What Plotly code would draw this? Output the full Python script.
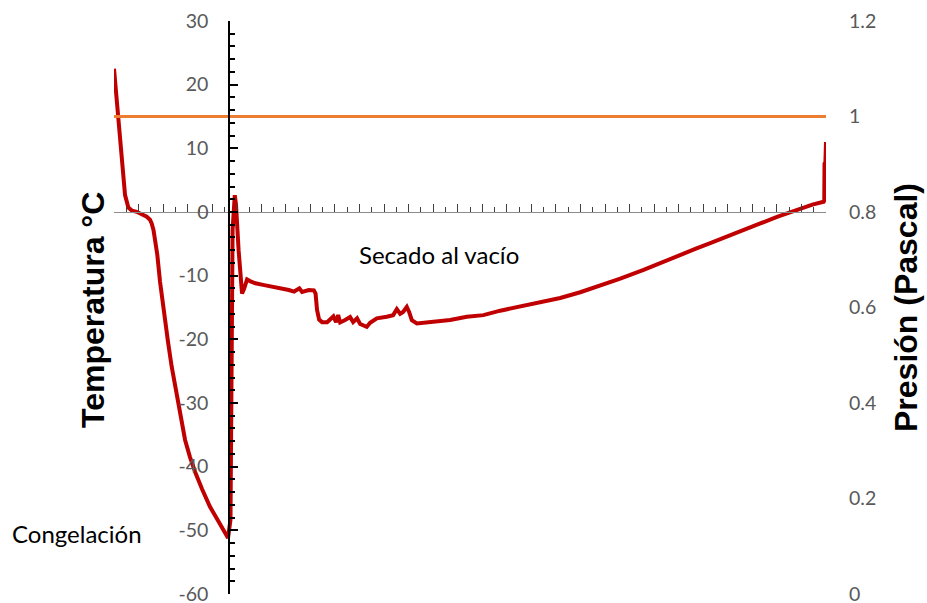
import plotly.graph_objects as go

# --- data ---
tiempo = [0.00, 0.49, 0.90, 1.17, 1.47, 1.85, 2.20, 2.67, 2.93, 3.07, 3.22, 3.34, 3.53, 3.75,
          3.97, 4.10, 4.40, 4.70, 4.97, 5.24, 5.50, 5.79, 6.19, 6.60, 7.17, 7.82, 8.48, 8.96,
          9.29, 9.49, 9.58, 9.66, 9.84, 9.94, 10.15, 10.31, 10.43, 10.59, 10.84, 11.08, 11.52,
          12.14, 12.88, 13.53, 14.24, 14.67, 15.10, 15.32, 15.87, 16.28, 16.42, 16.54, 16.71,
          16.95, 17.36, 17.87, 18.09, 18.26, 18.42, 18.83, 19.23, 19.48, 19.80, 20.05, 20.59,
          20.86, 21.41, 22.22, 22.74, 23.04, 23.31, 23.55, 23.85, 24.04, 24.26, 24.67, 25.35,
          26.02, 27.38, 28.74, 30.10, 31.46, 32.82, 34.72, 36.35, 37.98, 39.61, 41.24, 43.14,
          44.50, 46.13, 47.35, 48.57, 49.80, 51.02, 52.65, 54.01, 55.09, 55.91, 56.89, 57.81,
          57.86, 57.88, 57.95, 58.00]
temperatura = [22.5, 11.75, 2.65, 0.7, 0.2, 0.03, -0.25, -0.75, -1.2, -1.8, -2.85, -4.15, -6.75,
               -10.95, -14.6, -16.2, -20.4, -24.3, -27.2, -30.3, -33.1, -35.8, -38.5, -40.8, -43.5,
               -46.3, -48.5, -50.1, -51.2, -48.3, -13.8, -2.8, 2.65, 1.1, -6.0, -10.7, -12.8,
               -12.1, -10.6, -10.85, -11.2, -11.45, -11.7, -12.0, -12.25, -12.5, -12.0, -12.55,
               -12.25, -12.3, -12.8, -15.4, -16.9, -17.3, -17.3, -16.4, -17.3, -16.2, -17.35,
               -16.95, -16.5, -17.3, -16.7, -17.6, -18.05, -17.4, -16.7, -16.45, -16.2, -15.25,
               -16.0, -15.7, -14.9, -15.7, -17.0, -17.5, -17.35, -17.2, -16.95, -16.45, -16.2,
               -15.5, -14.95, -14.2, -13.5, -12.6, -11.6, -10.45, -9.1, -8.0, -6.75, -5.8, -4.9,
               -4.0, -3.1, -1.8, -0.75, -0.02, 0.55, 1.15, 1.6, 1.8, 7.6, 7.8, 11.0]

presion_tiempo = [0, 58]
presion = [1.0, 1.0]

temp_ticks = [30, 20, 10, 0, -10, -20, -30, -40, -50, -60]
temp_labels = ["30", "20", "10", "0", "-10", "-20", "-30", "-40", "-50", "-60"]
pres_ticks = [1.2, 1.0, 0.8, 0.6, 0.4, 0.2, 0.0]
pres_labels = ["1.2", "1", "0.8", "0.6", "0.4", "0.2", "0"]

TICKFONT = dict(family="Lato, Open Sans, sans-serif", size=19.5, color="#595959")

fig = go.Figure()
fig.add_trace(go.Scatter(x=presion_tiempo, y=presion, mode="lines", yaxis="y2",
                         line=dict(color="#ED7D31", width=3.2), showlegend=False,
                         hoverinfo="skip"))
fig.add_trace(go.Scatter(x=tiempo, y=temperatura, mode="lines", yaxis="y",
                         line=dict(color="#C00000", width=4), showlegend=False))

fig.update_layout(
    width=927, height=603,
    margin=dict(l=114, r=101, t=21, b=9),
    paper_bgcolor="white", plot_bgcolor="white",
    showlegend=False,
    xaxis=dict(range=[0, 58], anchor="free", position=2/3, automargin=False,
               showline=True, linecolor="#8c8c8c", linewidth=1.3,
               showgrid=False, zeroline=False, showticklabels=False,
               tickmode="linear", tick0=0, dtick=2, ticks="inside", ticklen=8,
               tickwidth=1.2, tickcolor="#404040",
               minor=dict(tickmode="linear", tick0=0, dtick=1, ticks="inside", ticklen=5,
                          tickwidth=1.2, tickcolor="#404040")),
    yaxis=dict(range=[-60, 30], anchor="free", position=0.162, side="left", automargin=False,
               showline=True, linecolor="black", linewidth=2,
               showgrid=False, zeroline=False,
               tickmode="array", tickvals=temp_ticks, ticktext=temp_labels,
               ticks="inside", ticklen=8, tickwidth=2, tickcolor="black",
               minor=dict(tickmode="linear", tick0=-60, dtick=2, ticks="inside", ticklen=5,
                          tickwidth=2, tickcolor="black"),
               tickfont=TICKFONT, ticklabelstandoff=16, ticklabeloverflow="allow"),
    yaxis2=dict(range=[0, 1.2], overlaying="y", side="right", anchor="x", automargin=False,
                showline=False, showgrid=False, zeroline=False, ticks="",
                tickmode="array", tickvals=pres_ticks, ticktext=pres_labels,
                tickfont=TICKFONT, ticklabelstandoff=22, ticklabeloverflow="allow"),
    annotations=[
        dict(text="<b>Temperatura °C</b>", textangle=-90, x=93, y=310,
             font=dict(family="Liberation Sans, Arial, sans-serif", size=32, color="black")),
        dict(text="<b>Presión (Pascal)</b>", textangle=-90, x=906, y=308,
             font=dict(family="Liberation Sans, Arial, sans-serif", size=32, color="black")),
        dict(text="Congelación", x=77, y=533,
             font=dict(family="Lato, Open Sans, sans-serif", size=24, color="black")),
        dict(text="Secado al vacío", x=439, y=254,
             font=dict(family="Lato, Open Sans, sans-serif", size=24, color="black")),
    ],
)

# convert pixel placement of annotations to paper coords
W, H = 927, 603
L, R, T, B = 114, 101, 21, 9
pw, ph = W - L - R, H - T - B
for a in fig.layout.annotations:
    a.x = (a.x - L) / pw
    a.y = 1 - (a.y - T) / ph
    a.xref = "paper"
    a.yref = "paper"
    a.xanchor = "center"
    a.yanchor = "middle"
    a.showarrow = False

fig.write_html("out.html", config={"displayModeBar": False},
               post_script="document.body.style.margin='0';document.body.style.padding='0';")
